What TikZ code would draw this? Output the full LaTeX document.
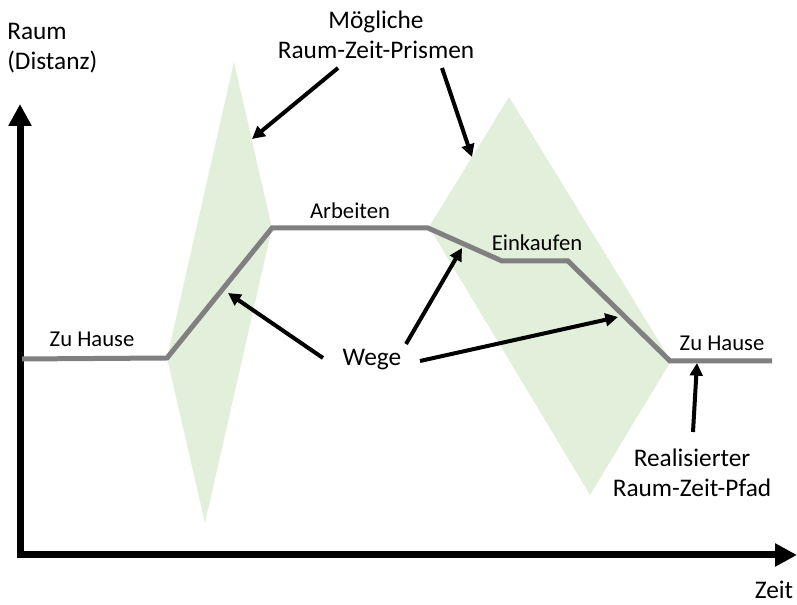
\documentclass[tikz,border=0pt]{standalone}
\usepackage{fontspec}
\setmainfont{Carlito}
\usetikzlibrary{arrows.meta}
\definecolor{prism}{HTML}{E2EFDA}
\definecolor{pathgray}{HTML}{808080}
\begin{document}
\begin{tikzpicture}[x=0.75pt,y=-0.75pt,
  lbl/.style={inner sep=0pt, font=\fontsize{17}{22.5}\selectfont, align=center},
  biglbl/.style={inner sep=0pt, font=\fontsize{19}{22.5}\selectfont, align=center},
  prismfill/.style={fill=prism, draw=none},
  realpath/.style={draw=pathgray, line width=3.75pt, line join=miter},
  axis/.style={line width=5.25pt, line join=miter, -{Triangle[length=16.5pt,width=16.5pt]}},
  pointer/.style={line width=3pt, -{Triangle[length=9.5pt,width=9.5pt]}}]
\useasboundingbox (0,0) rectangle (797,605);
% prisms
\fill[prismfill] (234,62) -- (272,228) -- (205,523) -- (167,358) -- cycle;
\fill[prismfill] (509,97) -- (671,361) -- (590,495) -- (429,227) -- cycle;
% axes
\coordinate (corner) at (20,555);
\coordinate (ytip) at (20,104);
\coordinate (xtip) at (797,555);
\draw[axis] (corner) -- (ytip);
\draw[axis] (17,555) -- (xtip);
% realised path
\coordinate (p0) at (22,359);
\coordinate (p1) at (167,358);
\coordinate (p2) at (272,228);
\coordinate (p3) at (428,228);
\coordinate (p4) at (502,261);
\coordinate (p5) at (568,261);
\coordinate (p6) at (670,361);
\coordinate (p7) at (772,361);
\draw[realpath] (p0) -- (p1) -- (p2) -- (p3) -- (p4) -- (p5) -- (p6) -- (p7);
% labels
\node[biglbl, anchor=west, align=left] (raum) at (7,48) {Raum\\(Distanz)};
\node[biglbl] (zeit) at (774,590) {Zeit};
\node[biglbl] (moeglich) at (376,35) {Mögliche\\Raum-Zeit-Prismen};
\node[lbl] (home1) at (92,339) {Zu Hause};
\node[lbl] (work) at (350,211) {Arbeiten};
\node[lbl] (shop) at (537,243) {Einkaufen};
\node[lbl] (home2) at (722,343) {Zu Hause};
\node[biglbl] (wege) at (372,360) {Wege};
\node[biglbl] (real) at (692,473) {Realisierter\\Raum-Zeit-Pfad};
% pointer targets
\coordinate (t1) at (252,139);
\coordinate (t2) at (472,157);
\coordinate (w1) at (228,293);
\coordinate (w2) at (462,248);
\coordinate (w3) at (618,317);
\coordinate (r1) at (697,363);
% pointers
\draw[pointer] (338,68) -- (t1);
\draw[pointer] (442,68) -- (t2);
\draw[pointer] (323,358) -- (w1);
\draw[pointer] (406,344) -- (w2);
\draw[pointer] (420,361) -- (w3);
\draw[pointer] (693,432) -- (r1);
\end{tikzpicture}
\end{document}
